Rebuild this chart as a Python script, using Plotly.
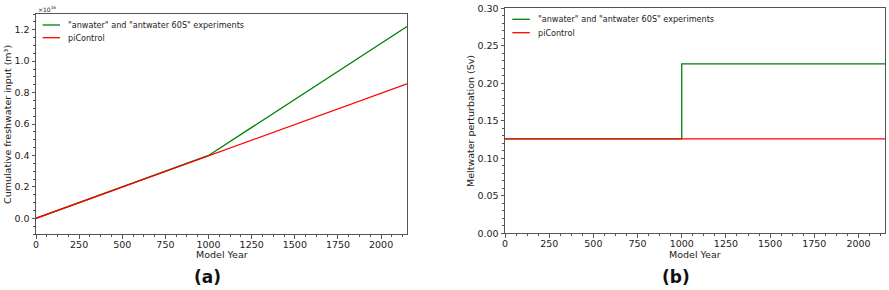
import plotly.graph_objects as go

# ---- data ----
years = [0, 1000, 2150]
cum_piControl_e16 = [0.0, 0.4, 0.855]      # cumulative freshwater input, x1e16 m^3
cum_anwater_e16 = [0.0, 0.4, 1.22]
years_step = [0, 1000, 2150]
melt_piControl = [0.126, 0.126, 0.126]     # Sv
melt_anwater = [0.126, 0.226, 0.226]

name_exp = '"anwater" and "antwater 60S" experiments'
name_ctl = "piControl"
GREEN = "#008000"
RED = "#ff0000"
FONT = "DejaVu Sans"
W, H = 889, 290
LW = 1.3

fig = go.Figure()
# left panel
fig.add_trace(go.Scatter(x=years, y=cum_anwater_e16, mode="lines", name=name_exp,
                         line=dict(color=GREEN, width=LW), xaxis="x", yaxis="y"))
fig.add_trace(go.Scatter(x=years, y=cum_piControl_e16, mode="lines", name=name_ctl,
                         line=dict(color=RED, width=LW), xaxis="x", yaxis="y"))
# right panel
fig.add_trace(go.Scatter(x=years_step, y=melt_anwater, mode="lines", name=name_exp, line_shape="hv",
                         line=dict(color=GREEN, width=LW), xaxis="x2", yaxis="y2"))
fig.add_trace(go.Scatter(x=years_step, y=melt_piControl, mode="lines", name=name_ctl,
                         line=dict(color=RED, width=LW), xaxis="x2", yaxis="y2"))

def px_x(p):
    return p / W

def px_y(p):
    return 1 - p / H

AX = "#555555"
TF = 9.5
axis_common = dict(showline=True, linecolor=AX, linewidth=1, mirror=True, automargin=False,
                   ticks="outside", ticklen=3.5, tickcolor=AX, showgrid=False,
                   zeroline=False, tickfont=dict(size=TF, color="#222"))
minor_common = dict(ticks="outside", ticklen=2, tickcolor=AX)

fig.update_layout(
    width=W, height=H, margin=dict(l=0, r=0, t=0, b=0, autoexpand=False),
    paper_bgcolor="white", plot_bgcolor="white", showlegend=False,
    font=dict(family=FONT, color="#222"),
    xaxis=dict(domain=[px_x(36), px_x(407)], range=[0, 2150], tickvals=list(range(0, 2001, 250)),
               ticklabelstandoff=-2,
               minor=dict(dtick=62.5, tick0=0, **minor_common), anchor="y", **axis_common),
    yaxis=dict(domain=[px_y(234), px_y(14)], range=[-0.1, 1.3], tickvals=[0, 0.2, 0.4, 0.6, 0.8, 1.0, 1.2],
               tickformat=".1f", minor=dict(dtick=0.05, tick0=0, **minor_common), anchor="x", **axis_common),
    xaxis2=dict(domain=[px_x(505), px_x(885)], range=[0, 2150], tickvals=list(range(0, 2001, 250)),
                ticklabelstandoff=-2,
                minor=dict(dtick=62.5, tick0=0, **minor_common), anchor="y2", **axis_common),
    yaxis2=dict(domain=[px_y(233.3), px_y(8.3)], range=[0, 0.30],
                tickvals=[0, 0.05, 0.10, 0.15, 0.20, 0.25, 0.30], tickformat=".2f",
                minor=dict(dtick=0.01, tick0=0, **minor_common), anchor="x2", **axis_common),
)

# legends (drawn manually to match the compact matplotlib style)
shapes = []
annots = []
def legend(x0, y_rows, names, colors):
    for yy, nm, col in zip(y_rows, names, colors):
        shapes.append(dict(type="line", xref="paper", yref="paper",
                           x0=px_x(x0), x1=px_x(x0 + 17.5), y0=px_y(yy), y1=px_y(yy),
                           line=dict(color=col, width=LW)))
        annots.append(dict(text=nm, x=px_x(x0 + 23.5), y=px_y(yy), xanchor="left", yanchor="middle",
                           font=dict(size=8.1, color="#222")))

legend(42.5, [25, 37.7], [name_exp, name_ctl], [GREEN, RED])
legend(512.3, [19.3, 32.7], [name_exp, name_ctl], [GREEN, RED])

annots += [
    dict(text="×10<sup>16</sup>", x=px_x(35.5), y=px_y(9), xanchor="left", yanchor="middle", font=dict(size=6)),
    dict(text="Cumulative freshwater input (m³)", x=px_x(7.5), y=px_y(124.5), textangle=-90,
         xanchor="center", yanchor="middle", font=dict(size=9.5)),
    dict(text="Meltwater perturbation (Sv)", x=px_x(470), y=px_y(121), textangle=-90,
         xanchor="center", yanchor="middle", font=dict(size=9.5)),
    dict(text="Model Year", x=px_x(221.5), y=px_y(254.8), xanchor="center", yanchor="middle", font=dict(size=9.5)),
    dict(text="Model Year", x=px_x(695), y=px_y(254.8), xanchor="center", yanchor="middle", font=dict(size=9.5)),
    dict(text="<b>(a)</b>", x=px_x(207), y=px_y(277), xanchor="center", yanchor="middle",
         font=dict(size=17, family="DejaVu Sans", color="#111")),
    dict(text="<b>(b)</b>", x=px_x(676), y=px_y(277), xanchor="center", yanchor="middle",
         font=dict(size=17, family="DejaVu Sans", color="#111")),
]
for a in annots:
    a.update(xref="paper", yref="paper", showarrow=False)
fig.update_layout(annotations=annots, shapes=shapes)

fig.write_html("out.html", config={"displayModeBar": False},
               post_script="document.body.style.margin='0';document.body.style.overflow='hidden';")
